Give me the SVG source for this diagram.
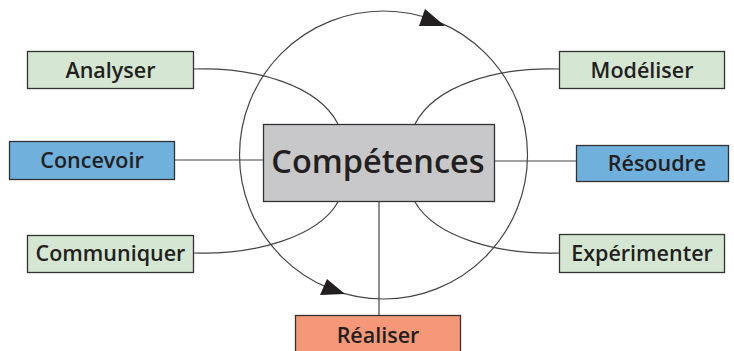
<svg xmlns="http://www.w3.org/2000/svg" width="734" height="351" viewBox="0 0 734 351">
<style>
.box{stroke:#333;stroke-width:1.3}
.g{fill:#d5e6d3}
.b{fill:#70b0dd}
.lbl{font-family:"Open Sans","Liberation Sans",sans-serif;font-weight:600;font-size:21.5px;fill:#231f20;text-anchor:middle}
.con{fill:none;stroke:#444;stroke-width:1.2}
</style>
<rect width="734" height="351" fill="#fff"/>
<g id="connectors">
<circle class="con" cx="383.5" cy="155" r="144"/>
<polygon points="425,9 419,26 445,26" fill="#231f20"/>
<polygon points="327,279 320,295 345,294" fill="#231f20"/>
<path class="con" d="M194,69 C255,67 318,85 338,124"/>
<path class="con" d="M559,69 C498,67 435,85 415,124"/>
<path class="con" d="M194,253 C255,255 318,237 338,202"/>
<path class="con" d="M559,253 C498,255 435,237 415,202"/>
<line class="con" x1="175" y1="160" x2="263" y2="160"/>
<line class="con" x1="495" y1="161" x2="576" y2="161"/>
<line class="con" x1="379" y1="202" x2="379" y2="315"/>
</g>
<g id="competences">
<rect class="box" x="263.5" y="124.5" width="231" height="77" fill="#c8c8ca"/>
<text class="lbl" x="378" y="173" style="font-size:32.5px">Compétences</text>
</g>
<g id="analyser">
<rect class="box g" x="27.5" y="51.5" width="166" height="37"/>
<text class="lbl" x="110.5" y="78">Analyser</text>
</g>
<g id="concevoir">
<rect class="box b" x="9.5" y="141.5" width="165" height="38"/>
<text class="lbl" x="92" y="168">Concevoir</text>
</g>
<g id="communiquer">
<rect class="box g" x="27.5" y="235.5" width="166" height="37"/>
<text class="lbl" x="110.5" y="261">Communiquer</text>
</g>
<g id="modeliser">
<rect class="box g" x="559.5" y="51.5" width="165" height="37"/>
<text class="lbl" x="642" y="78">Modéliser</text>
</g>
<g id="resoudre">
<rect class="box b" x="576.5" y="145.5" width="152" height="36"/>
<text class="lbl" x="657" y="171">Résoudre</text>
</g>
<g id="experimenter">
<rect class="box g" x="559.5" y="234.5" width="165" height="38"/>
<text class="lbl" x="642" y="261">Expérimenter</text>
</g>
<g id="realiser">
<rect class="box" x="295.5" y="315.5" width="165" height="40" fill="#f59878"/>
<text class="lbl" x="378" y="343">Réaliser</text>
</g>
</svg>
